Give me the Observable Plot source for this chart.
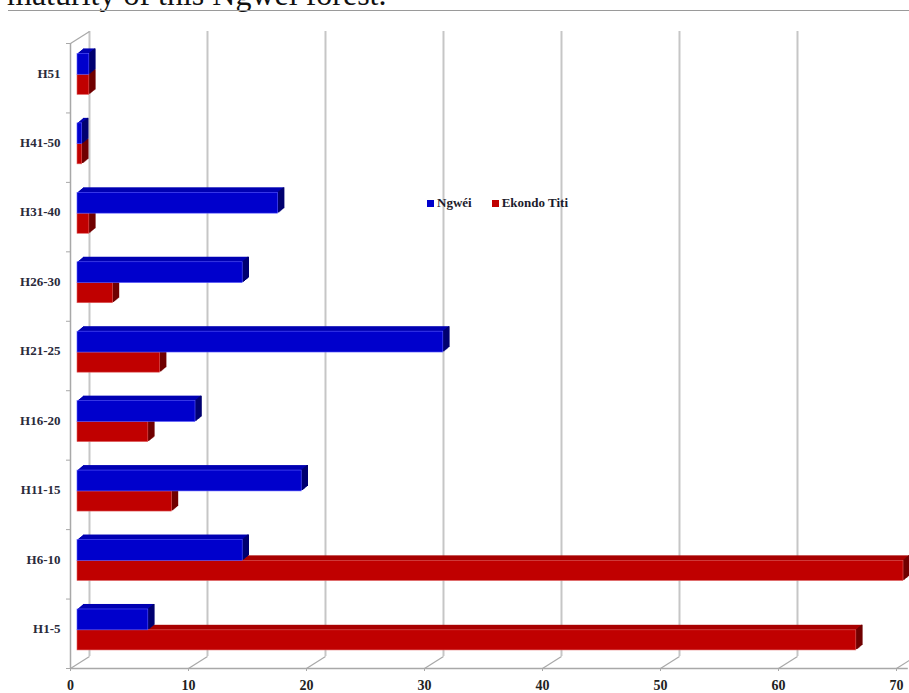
<!DOCTYPE html>
<html>
<head>
<meta charset="utf-8">
<script src="https://cdn.jsdelivr.net/npm/d3@7"></script>
<script src="https://cdn.jsdelivr.net/npm/@observablehq/plot@0.6"></script>
<style>
  html, body { margin: 0; padding: 0; background: #fff; }
  body { width: 909px; height: 693px; overflow: hidden; position: relative; font-family: "Liberation Serif", serif; }
  #head { display: block; }
  #legend { position: absolute; left: 427px; top: 195px; font-size: 13px; font-weight: bold; color: #1c1c2c; display: flex; align-items: center; gap: 3px; }
  #legend .sw { display: inline-block; width: 7px; height: 7px; }
  #chart svg { display: block; }
</style>
</head>
<body>
<svg id="head" width="909" height="12">
  <text x="7" y="5" font-family="Liberation Serif, serif" font-size="32" fill="#111">maturity of this Ngwei forest.</text>
  <line x1="8" x2="909" y1="10.5" y2="10.5" stroke="#9a9a9a" stroke-width="1.2"></line>
</svg>
<div id="chart"></div>
<div id="legend">
  <span class="sw" style="background:#0000cc"></span><span>Ngwéi</span>
  <span style="width:14px"></span>
  <span class="sw" style="background:#c00000"></span><span>Ekondo Titi</span>
</div>
<script>
// Diameter classes, bottom to top
const categories = ["H1-5", "H6-10", "H11-15", "H16-20", "H21-25", "H26-30", "H31-40", "H41-50", "H51"];
const ngwei      = [6, 14, 19, 10, 31, 14, 17, 0.4, 1];
const ekondoTiti = [66, 70, 8, 6, 7, 3, 1, 0.4, 1];
const xTicks     = [0, 10, 20, 30, 40, 50, 60, 70];

const series = [
  {rows: categories.map((c, i) => ({c, v: ekondoTiti[i], y1: i + 0.26, y2: i + 0.55})),
   face: "#c00000", top: "#a80000", side: "#700000", edge: "#e06060"},
  {rows: categories.map((c, i) => ({c, v: ngwei[i], y1: i + 0.55, y2: i + 0.85})),
   face: "#0000cc", top: "#0000b2", side: "#000070", edge: "#5a5aff"}
];

// 3-D box: depth of the back wall in data units, and the bars' extrusion in pixels
const DX = 1.61, DY = 0.173;
const BAR_DX = 7, EXT_X = 6, EXT_Y = 5;
const steps = d3.range(1, EXT_X + 1);

const gridColor = "#c6c6c6", edgeColor = "#a8a8a8";

// one bar series: stepped top face, dark end face, then the front face
function bars({rows, face, top, side, edge}) {
  return [
    ...steps.map(s => Plot.rect(rows, {x1: 0, x2: "v", y1: "y1", y2: "y2", fill: top,
      dx: BAR_DX + s, dy: -s * EXT_Y / EXT_X})),
    ...steps.map(s => Plot.ruleX(rows, {x: "v", y1: "y1", y2: "y2", stroke: side, strokeWidth: 1.6,
      dx: BAR_DX + s - 0.5, dy: -s * EXT_Y / EXT_X})),
    Plot.rect(rows, {x1: 0, x2: "v", y1: "y1", y2: "y2", fill: face, stroke: edge, strokeWidth: 0.6, dx: BAR_DX})
  ];
}

const chart = Plot.plot({
  width: 909,
  height: 681,
  marginLeft: 70,
  marginRight: 13,
  marginTop: 31,
  marginBottom: 25,
  x: {domain: [0, 70], label: null},
  y: {domain: [0, 9], label: null},
  style: {fontFamily: "Liberation Serif, serif", color: "#222", background: "#fff", overflow: "visible"},
  marks: [
    // back wall gridlines and floor diagonals
    Plot.ruleX(xTicks, {x: d => d + DX, y1: DY, y2: 9 + DY, stroke: gridColor, strokeWidth: 2}),
    Plot.link(xTicks, {x1: d => d, y1: 0, x2: d => d + DX, y2: DY, stroke: edgeColor, strokeWidth: 1.2}),
    // left wall front edge and its top corner
    Plot.ruleX([0], {y1: 0, y2: 9, stroke: edgeColor, strokeWidth: 1.5}),
    Plot.link([0], {x1: 0, y1: 9, x2: DX, y2: 9 + DY, stroke: edgeColor, strokeWidth: 1.2}),
    // floor front edge
    Plot.ruleY([0], {x1: 0, x2: 71, stroke: edgeColor, strokeWidth: 1.5}),
    // Ekondo Titi below, Ngwéi above
    ...bars(series[0]),
    ...bars(series[1]),
    // category ticks and labels
    Plot.axisY({ticks: d3.range(0, 10), tickSize: 4, tickFormat: () => "", label: null, stroke: edgeColor}),
    Plot.text(categories, {x: 0, y: (d, i) => i + 0.57, text: d => d, textAnchor: "end", dx: -10,
      fontSize: 13, fontWeight: "bold", fill: "#2a2a3a"}),
    // value axis
    Plot.axisX({ticks: xTicks, tickSize: 3, tickPadding: 9, tickFormat: d => String(d), label: null,
      fontSize: 14, fontWeight: "bold", stroke: edgeColor, fill: "#222"})
  ]
});
document.getElementById("chart").appendChild(chart);
</script>
</body>
</html>
